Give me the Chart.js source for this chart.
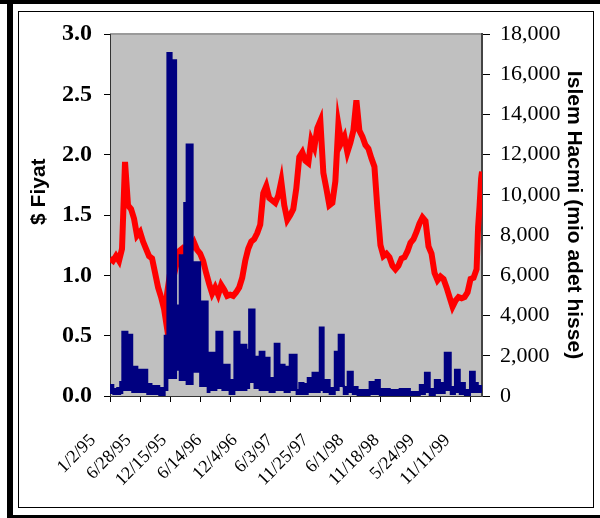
<!DOCTYPE html>
<html>
<head>
<meta charset="utf-8">
<script src="https://cdn.jsdelivr.net/npm/chart.js@4.4.1/dist/chart.umd.min.js"></script>
<style>
  html, body { margin: 0; padding: 0; background: #fff; }
  .page { position: relative; width: 600px; height: 518px; overflow: hidden; }
  .bar { position: absolute; background: #000; }
  .inner { position: absolute; left: 18px; top: 11px; width: 574px; height: 495px; border: 1px solid #000; }
  #chartBox { position: absolute; left: 0; top: 0; width: 600px; height: 518px; }
</style>
</head>
<body>
<div class="page">
  <div class="bar" style="left:0;top:0;width:600px;height:4px"></div>
  <div class="bar" style="left:7px;top:0;width:6px;height:518px"></div>
  <div class="bar" style="left:7px;top:515px;width:593px;height:3px"></div>
  <div class="inner"></div>
  <div id="chartBox"><canvas id="stockChart"></canvas></div>
</div>
<script>
// x = trading day index counted from 1/2/95
const dateLabels = ['1/2/95', '6/28/95', '12/15/95', '6/14/96', '12/4/96', '6/3/97',
                    '11/25/97', '6/1/98', '11/18/98', '5/24/99', '11/11/99'];
const labelDays = [0, 118, 236, 354, 472, 590, 708, 826, 944, 1062, 1180];
const tickDays = [0, 100, 200, 300, 400, 500, 600, 700, 800, 900, 1000, 1100, 1200];
const lastDay = 1238;

// $ Fiyat (left axis)
const priceDays = [0, 10, 20, 30, 40, 50, 60, 70, 80, 90, 100, 110, 120, 130, 140, 150, 160, 170, 180, 185,
  190, 200, 210, 220, 230, 240, 250, 260, 270, 280, 290, 300, 310, 320, 330, 340, 350, 360, 370, 380,
  390, 400, 410, 420, 430, 440, 450, 460, 470, 480, 490, 500, 510, 520, 530, 540, 550, 560, 570, 580,
  590, 600, 610, 620, 630, 640, 650, 660, 670, 680, 690, 700, 710, 720, 730, 740, 750, 760, 770, 780,
  790, 800, 810, 820, 830, 840, 850, 860, 870, 880, 890, 900, 910, 920, 930, 940, 950, 960, 970, 980,
  990, 1000, 1010, 1020, 1030, 1040, 1050, 1060, 1070, 1080, 1090, 1100, 1110, 1120, 1130, 1140, 1150, 1160, 1170, 1180,
  1190, 1200, 1210, 1220, 1225, 1230, 1235, 1238];
const priceValues = [1.14, 1.12, 1.16, 1.12, 1.22, 1.94, 1.58, 1.55, 1.47, 1.33, 1.36, 1.28, 1.22, 1.16, 1.14, 1.02, 0.90, 0.82, 0.72, 0.64,
  0.85, 1.02, 0.97, 1.08, 1.20, 1.22, 1.17, 1.25, 1.22, 1.27, 1.21, 1.18, 1.12, 1.02, 0.93, 0.85, 0.90, 0.84, 0.92, 0.88,
  0.83, 0.84, 0.83, 0.86, 0.90, 0.98, 1.12, 1.22, 1.28, 1.30, 1.35, 1.42, 1.68, 1.74, 1.64, 1.62, 1.60, 1.66, 1.78, 1.58,
  1.46, 1.50, 1.55, 1.72, 1.98, 2.02, 1.95, 1.93, 2.12, 2.06, 2.22, 2.28, 1.85, 1.72, 1.58, 1.60, 1.78, 2.25, 2.10, 2.15,
  2.02, 2.10, 2.20, 2.45, 2.20, 2.15, 2.08, 2.05, 1.97, 1.90, 1.55, 1.25, 1.16, 1.18, 1.15, 1.08, 1.05, 1.08, 1.14, 1.15,
  1.20, 1.27, 1.30, 1.36, 1.43, 1.48, 1.45, 1.24, 1.18, 1.02, 0.96, 0.99, 0.97, 0.90, 0.82, 0.74, 0.79, 0.82, 0.81, 0.82,
  0.86, 0.97, 0.98, 1.05, 1.40, 1.58, 1.80, 1.86];

// Islem Hacmi (right axis): daily volume band, high and low per block
const volumeDays = [0, 11, 24, 34, 41, 58, 74, 91, 124, 138, 164, 182, 191, 205, 220, 232, 247, 255, 275, 300,
  325, 331, 354, 374, 398, 414, 431, 454, 463, 481, 498, 514, 531, 548, 564, 581, 598, 621, 630, 644,
  658, 674, 698, 711, 731, 748, 761, 778, 791, 808, 824, 864, 884, 898, 931, 964, 998, 1031, 1048, 1064,
  1081, 1098, 1114, 1134, 1148, 1164, 1181, 1198, 1214, 1224, 1238];
const volumeHigh = [550, 350, 400, 700, 3200, 3050, 1450, 1300, 600, 500, 400, 3000, 17050, 16700, 4500, 7000, 9600, 12500, 6650, 4700,
  600, 2150, 3200, 1550, 800, 3200, 2550, 2300, 4300, 1950, 2200, 1900, 900, 2600, 1550, 1450, 2050, 300, 650, 600,
  900, 1150, 3400, 800, 400, 2200, 3050, 450, 1200, 450, 300, 700, 800, 350, 300, 350, 200, 550, 1150, 350,
  800, 650, 2150, 450, 1300, 650, 300, 1200, 650, 500, 500];
const volumeLow = [150, 100, 100, 150, 300, 300, 200, 200, 100, 100, 50, 300, 900, 900, 1300, 800, 800, 600, 1200, 500,
  200, 300, 400, 300, 100, 300, 300, 400, 700, 400, 300, 300, 200, 300, 300, 200, 300, 100, 100, 100,
  200, 200, 300, 200, 100, 300, 500, 100, 200, 100, 50, 100, 100, 50, 50, 50, 50, 100, 200, 50,
  150, 150, 300, 100, 200, 100, 50, 200, 200, 200, 200];

const toPoints = (xs, ys) => xs.map((d, i) => ({ x: d, y: ys[i] }));

const plotBackground = {
  id: 'plotBackground',
  beforeDraw(chart) {
    const { ctx, chartArea: a } = chart;
    ctx.save();
    ctx.fillStyle = '#c0c0c0';
    ctx.fillRect(a.left, a.top, a.right - a.left, a.bottom - a.top);
    ctx.strokeStyle = '#9a9a9a';
    ctx.lineWidth = 2;
    ctx.beginPath();
    ctx.moveTo(a.left, a.top);
    ctx.lineTo(a.right, a.top);
    ctx.stroke();
    ctx.restore();
  }
};

new Chart(document.getElementById('stockChart'), {
  type: 'line',
  data: {
    datasets: [
      {
        label: 'Islem Hacmi',
        data: toPoints(volumeDays, volumeHigh),
        yAxisID: 'y1',
        stepped: 'before',
        borderColor: '#000080',
        backgroundColor: '#000080',
        borderWidth: 2,
        pointRadius: 0,
        fill: '+1'
      },
      {
        label: 'Islem Hacmi low',
        data: toPoints(volumeDays, volumeLow),
        yAxisID: 'y1',
        stepped: 'before',
        borderColor: '#000080',
        borderWidth: 2,
        pointRadius: 0,
        fill: false
      },
      {
        label: '$ Fiyat',
        data: toPoints(priceDays, priceValues),
        yAxisID: 'y',
        borderColor: '#ff0000',
        borderWidth: 6,
        pointRadius: 0,
        tension: 0,
        fill: false
      }
    ]
  },
  options: {
    responsive: true,
    maintainAspectRatio: false,
    animation: false,
    layout: { padding: { top: 34, left: 0, right: 0, bottom: 0 } },
    plugins: { legend: { display: false }, tooltip: { enabled: false } },
    scales: {
      x: {
        type: 'linear',
        position: 'bottom',
        weight: 0,
        min: 0,
        max: lastDay,
        afterBuildTicks: (scale) => { scale.ticks = tickDays.map(v => ({ value: v })); },
        ticks: { display: false },
        grid: { drawOnChartArea: false, drawTicks: true, tickLength: 6, color: '#000' },
        border: { color: '#333', width: 1 },
        afterFit: (scale) => { scale.height = 6; }
      },
      xl: {
        type: 'linear',
        position: 'bottom',
        weight: 1,
        min: 0,
        max: lastDay,
        afterBuildTicks: (scale) => { scale.ticks = labelDays.map(v => ({ value: v })); },
        ticks: {
          callback: (v, i) => dateLabels[i],
          autoSkip: false,
          maxRotation: 45,
          minRotation: 45,
          padding: 20,
          labelOffset: -17,
          color: '#000',
          font: { family: 'Liberation Serif', size: 18 }
        },
        grid: { display: false },
        border: { display: false },
        afterFit: (scale) => { scale.height = 116; }
      },
      y: {
        position: 'left',
        min: 0,
        max: 3,
        ticks: {
          stepSize: 0.5,
          callback: (v) => v.toFixed(1),
          padding: 12,
          color: '#000',
          font: { family: 'Liberation Serif', size: 24, weight: 'bold' }
        },
        grid: { drawOnChartArea: false, tickLength: 6, color: '#000' },
        border: { color: '#333', width: 1 },
        title: {
          display: true,
          text: '        $ Fiyat',
          color: '#000',
          padding: { top: 27, bottom: 0 },
          font: { family: 'Liberation Sans', size: 21, weight: 'bold' }
        },
        afterFit: (scale) => { scale.width = 110; }
      },
      y1: {
        position: 'right',
        min: 0,
        max: 18000,
        ticks: {
          stepSize: 2000,
          callback: (v) => v.toLocaleString('en-US'),
          padding: 10,
          color: '#000',
          font: { family: 'Liberation Serif', size: 22 }
        },
        grid: { drawOnChartArea: false, tickLength: 8, color: '#000' },
        border: { color: '#444', width: 2 },
        title: {
          display: true,
          text: 'Islem Hacmi (mio adet hisse)',
          color: '#000',
          padding: { top: 14, bottom: 0 },
          font: { family: 'Liberation Sans', size: 21, weight: 'bold' }
        },
        afterFit: (scale) => { scale.width = 118; }
      }
    }
  },
  plugins: [plotBackground]
});
</script>
</body>
</html>
